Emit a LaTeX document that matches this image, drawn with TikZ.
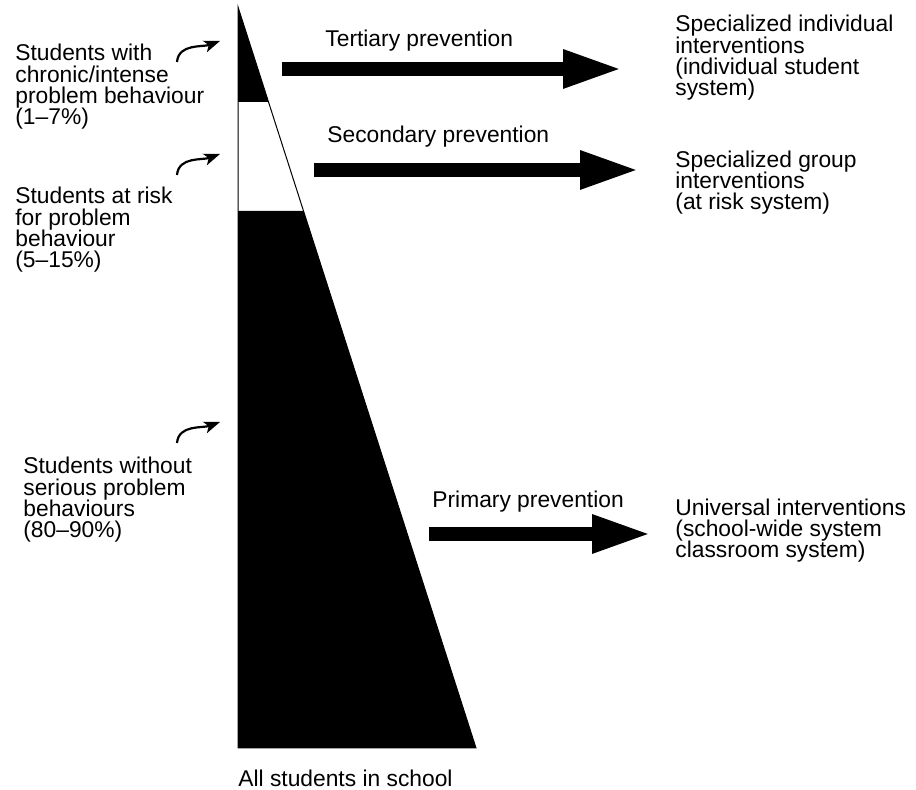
\documentclass[tikz,border=0pt]{standalone}
\usepackage{fontspec}
\setmainfont{Liberation Sans}
\usetikzlibrary{arrows.meta,calc}

\begin{document}
\begin{tikzpicture}[x=0.5pt, y=0.5pt,
    lbl/.style={anchor=base west, inner sep=0pt, align=left,
      font=\fontsize{11.4}{10.7}\selectfont},
    bigarrow/.style={line width=7pt, -{Triangle[length=30pt, width=17.5pt]}},
    pointer/.style={line width=1.1pt, -{Stealth[length=8pt, width=6pt, inset=2pt]}}]
    \useasboundingbox (0,0) rectangle (916,790);
    % the pyramid
    \coordinate (apex) at (238,783);
    \coordinate (bl) at (238,42);
    \coordinate (br) at (476,42);
    \coordinate (c1) at ($(apex)!0.128!(br)$);
    \coordinate (c2) at ($(apex)!0.275!(br)$);
    \fill (apex) -- (c1) -- (apex |- c1) -- cycle;
    \fill (c2) -- (br) -- (bl) -- (apex |- c2) -- cycle;
    \draw[line width=0.5pt] (apex) -- (bl) -- (br) -- cycle;
    % groups of students (anchored at the last line)
    \node[lbl] (chronic) at (15,665) {Students with\\chronic/intense\\problem behaviour\\(1--7\%)};
    \node[lbl] (atrisk) at (15,522) {Students at risk\\for problem\\behaviour\\(5--15\%)};
    \node[lbl] (without) at (23,252) {Students without\\serious problem\\behaviours\\(80--90\%)};
    \node[lbl] (all) at (238,3) {All students in school};
    \foreach \y [count=\i] in {728,615,347} {
      \coordinate (ptr\i a) at (177,\y);
      \coordinate (ptr\i b) at (220,\y+21);
      \draw[pointer] (ptr\i a) to[out=85, in=200] (ptr\i b);
    }
    % prevention levels
    \node[lbl] (tertiary) at (325,743) {Tertiary prevention};
    \node[lbl] (secondary) at (327,647) {Secondary prevention};
    \node[lbl] (primary) at (432,282) {Primary prevention};
    \coordinate (ter s) at (282,721);
    \coordinate (ter e) at (623,721);
    \coordinate (sec s) at (314,620);
    \coordinate (sec e) at (640,620);
    \coordinate (pri s) at (429,256);
    \coordinate (pri e) at (652,256);
    \draw[bigarrow] (ter s) -- (ter e);
    \draw[bigarrow] (sec s) -- (sec e);
    \draw[bigarrow] (pri s) -- (pri e);
    % interventions
    \node[lbl] (indiv) at (675,694) {Specialized individual\\interventions\\(individual student\\system)};
    \node[lbl] (group) at (675,580) {Specialized group\\interventions\\(at risk system)};
    \node[lbl] (univ) at (675,232) {Universal interventions\\(school-wide system\\classroom system)};
\end{tikzpicture}
\end{document}
